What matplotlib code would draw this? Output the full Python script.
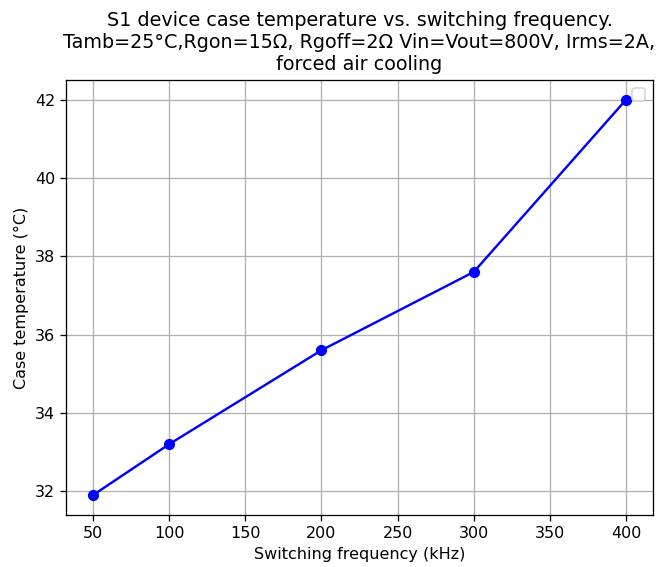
import matplotlib
matplotlib.use("Agg")
import matplotlib.pyplot as plt

# switching frequency vs case temperature
freq_khz = [50, 100, 200, 300, 400]
case_temp = [31.9, 33.2, 35.6, 37.6, 42.0]

DPI = 115
fig, ax = plt.subplots(figsize=(664 / DPI, 567 / DPI), dpi=DPI)
ax.plot(freq_khz, case_temp, 'o-', color='blue')
ax.set_title("S1 device case temperature vs. switching frequency.\n"
             "Tamb=25°C,Rgon=15Ω, Rgoff=2Ω Vin=Vout=800V, Irms=2A,\n"
             "forced air cooling")
ax.set_xlabel("Switching frequency (kHz)")
ax.set_ylabel("Case temperature (°C)")
ax.grid(True)
ax.legend(handles=[])
fig.subplots_adjust(left=0.1, right=0.983, top=0.859, bottom=0.092)
fig.savefig("out.png", dpi=DPI)
